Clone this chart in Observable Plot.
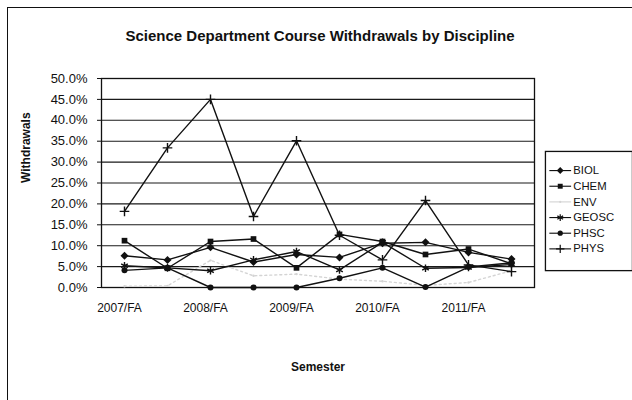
<!DOCTYPE html>
<html>
<head>
<meta charset="utf-8">
<script src="https://cdn.jsdelivr.net/npm/d3@7"></script>
<script src="https://cdn.jsdelivr.net/npm/@observablehq/plot@0.6"></script>
<style>
  body { margin: 0; background: #fff; }
  #chart { position: relative; width: 632px; height: 400px; overflow: hidden; background: #fff;
           font-family: "Liberation Sans", Arial, sans-serif; }
  #chart > svg { position: absolute; left: 0; top: 0; }
  #border { position: absolute; left: 7px; top: 7px; width: 700px; height: 500px;
            border-left: 1.5px solid #111; border-top: 1.5px solid #111; }
  #legend { position: absolute; left: 545px; top: 151px; }
</style>
</head>
<body>
<div id="chart"><div id="border"></div><div id="legend"></div></div>
<script>
// Semesters (fall and spring terms); only the fall terms are labelled on the axis
const semesters = ["2007/FA", "2008/SP", "2008/FA", "2009/SP", "2009/FA",
                   "2010/SP", "2010/FA", "2011/SP", "2011/FA", "2012/SP"];
const axisTicks = ["2007/FA", "2008/FA", "2009/FA", "2010/FA", "2011/FA"];
const disciplines = ["BIOL", "CHEM", "ENV", "GEOSC", "PHSC", "PHYS"];
const yTicks = [0, 0.05, 0.10, 0.15, 0.20, 0.25, 0.30, 0.35, 0.40, 0.45, 0.50];

// Withdrawal rates, percent of enrolments
const biol  = [7.6, 6.6, 9.6, 6.1, 7.9, 7.2, 10.6, 10.8, 8.4, 6.8];
const chem  = [11.2, 4.6, 11.0, 11.6, 4.7, 12.7, 11.0, 7.9, 9.2, 5.7];
const env   = [0.3, 0.4, 6.5, 2.8, 3.2, 2.0, 1.5, 0.5, 1.2, 4.0];
const geosc = [5.2, 4.7, 4.0, 6.6, 8.6, 4.2, 10.8, 4.6, 4.8, 5.5];
const phsc  = [4.1, 4.7, 0.0, 0.0, 0.0, 2.2, 4.7, 0.1, 4.9, 5.9];
const phys  = [18.2, 33.4, 45.0, 17.0, 35.1, 12.5, 6.6, 20.8, 5.4, 3.8];

const seriesValues = { BIOL: biol, CHEM: chem, ENV: env, GEOSC: geosc, PHSC: phsc, PHYS: phys };

// Marker and line styling per discipline
const styles = {
  BIOL:  { symbol: "diamond2", filled: true,  r: 3.6, stroke: "#111" },
  CHEM:  { symbol: "square",   filled: true,  r: 3.2, stroke: "#111" },
  ENV:   { symbol: "circle",   filled: true,  r: 1.2, stroke: "#d4d4d4", dash: "2,3" },
  GEOSC: { symbol: "asterisk", filled: false, r: 3.6, stroke: "#111" },
  PHSC:  { symbol: "circle",   filled: true,  r: 3.0, stroke: "#111" },
  PHYS:  { symbol: "plus",     filled: false, r: 3.2, stroke: "#111" }
};

const rows = disciplines.flatMap(name =>
  seriesValues[name].map((v, i) => ({ discipline: name, semester: semesters[i], rate: v / 100 }))
);

const font = { fontFamily: "'Liberation Sans', Arial, sans-serif" };

function seriesMarks(name) {
  const s = styles[name];
  const data = rows.filter(d => d.discipline === name);
  return [
    Plot.line(data, { x: "semester", y: "rate", stroke: s.stroke, strokeWidth: 1.4,
                      strokeDasharray: s.dash }),
    Plot.dot(data, { x: "semester", y: "rate", symbol: () => s.symbol, r: s.r,
                     fill: s.filled ? s.stroke : "none",
                     stroke: s.stroke, strokeWidth: s.filled ? 0 : 1.4 })
  ];
}

const chart = Plot.plot({
  width: 632,
  height: 400,
  marginLeft: 101,
  marginRight: 98,
  marginTop: 78,
  marginBottom: 113,
  style: { ...font, background: "transparent", color: "#111" },
  symbol: { type: "identity" },
  x: { type: "point", domain: semesters, padding: 0.5, label: null },
  y: { domain: [0, 0.5], label: null },
  marks: [
    Plot.gridY(yTicks, { stroke: "#1a1a1a", strokeOpacity: 1, strokeWidth: 1.1 }),
    Plot.frame({ stroke: "#111", strokeWidth: 1.3 }),
    Plot.axisY({ ticks: yTicks, tickFormat: d3.format(".1%"), tickSize: 4, tickPadding: 10,
                 fontSize: 13, label: null }),
    Plot.axisX({ ticks: axisTicks, tickSize: 0, tickPadding: 16, fontSize: 12, dx: -5, label: null }),
    ...disciplines.flatMap(seriesMarks),
    Plot.text(["Science Department Course Withdrawals by Discipline"], {
      text: d => d, frameAnchor: "top", dy: -42, dx: 2, lineAnchor: "middle",
      fontSize: 15, fontWeight: "bold" }),
    Plot.text(["Withdrawals"], {
      text: d => d, frameAnchor: "left", dx: -75, rotate: -90, lineAnchor: "middle",
      fontSize: 12, fontWeight: "bold" }),
    Plot.text(["Semester"], {
      text: d => d, frameAnchor: "bottom", dy: 80, lineAnchor: "middle",
      fontSize: 12, fontWeight: "bold" })
  ]
});
document.getElementById("chart").appendChild(chart);

// Legend: a short line sample with the series marker, then the discipline name
const legendRows = disciplines.map(name => ({ discipline: name }));
const legend = Plot.plot({
  width: 100,
  height: 137,
  margin: 0,
  style: { ...font, background: "#fff", color: "#111", overflow: "visible" },
  symbol: { type: "identity" },
  x: { domain: [0, 100], range: [0, 100], axis: null },
  y: { type: "point", domain: disciplines, range: [11, 122], axis: null },
  marks: [
    Plot.frame({ stroke: "#111", strokeWidth: 1.5 }),
    Plot.ruleY(legendRows, { y: "discipline", x1: 5, x2: 30,
      stroke: d => styles[d.discipline].stroke, strokeWidth: 1.3,
      strokeDasharray: d => styles[d.discipline].dash || null }),
    ...disciplines.map(name => {
      const s = styles[name];
      return Plot.dot(legendRows.filter(d => d.discipline === name), {
        x: 17, y: "discipline", symbol: () => s.symbol, r: s.r,
        fill: s.filled ? s.stroke : "none", stroke: s.stroke, strokeWidth: s.filled ? 0 : 1.4 });
    }),
    Plot.text(legendRows, { x: 32, y: "discipline", text: "discipline", textAnchor: "start",
      fontSize: 13 })
  ]
});
document.getElementById("legend").appendChild(legend);
</script>
</body>
</html>
